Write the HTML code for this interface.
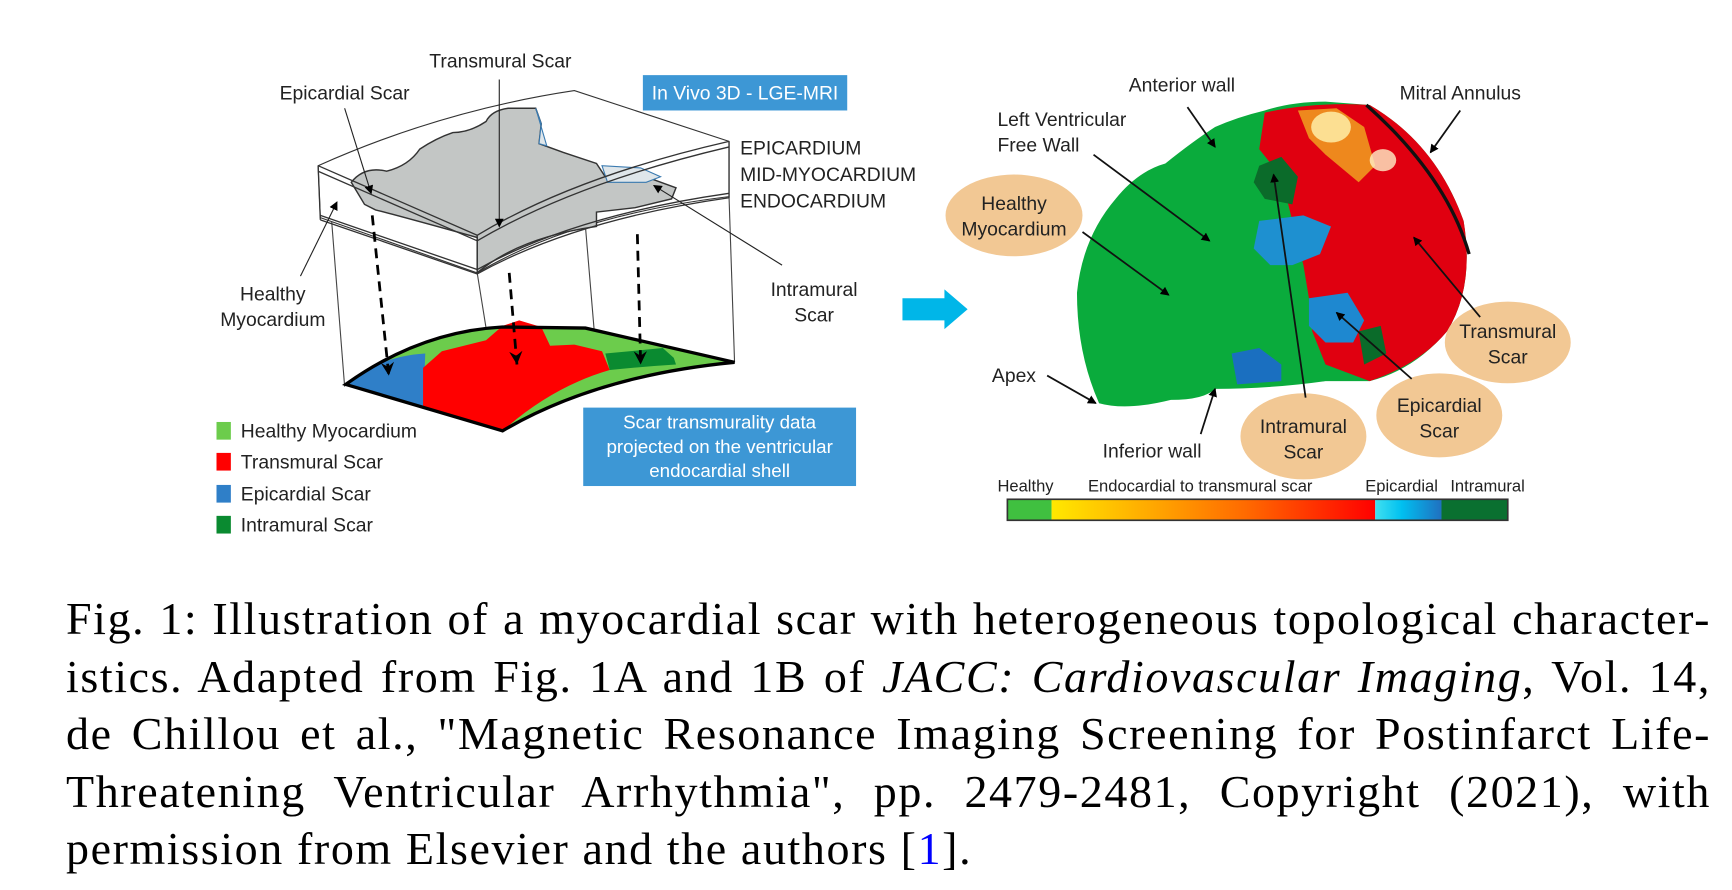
<!DOCTYPE html>
<html><head><meta charset="utf-8"><style>
html,body{margin:0;padding:0;background:#fff;}
body{width:1732px;height:890px;position:relative;overflow:hidden;}
svg{position:absolute;left:0;top:0;}
.cap{position:absolute;left:66px;width:1645px;font-family:"Liberation Serif",serif;font-size:46px;letter-spacing:1.6px;line-height:57.5px;white-space:nowrap;color:#000;}
.j{text-align:justify;text-align-last:justify;}
</style></head><body>
<svg width="1732" height="890" viewBox="0 0 1568 805.7" font-family="Liberation Sans, sans-serif">
<defs>
<marker id="ah" markerWidth="8" markerHeight="8" refX="7" refY="4" orient="auto" markerUnits="userSpaceOnUse"><path d="M0,0 L8,4 L0,8 Z" fill="#000"/></marker>
<marker id="ah2" markerWidth="14" markerHeight="12" refX="12" refY="6" orient="auto" markerUnits="userSpaceOnUse"><path d="M0,0 L12,6 L0,12 L4,6 Z" fill="#000"/></marker>
<linearGradient id="cb" x1="0" x2="1"><stop offset="0" stop-color="#ffe800"/><stop offset="0.3" stop-color="#ffaa00"/><stop offset="0.6" stop-color="#ff6a00"/><stop offset="1" stop-color="#ff0000"/></linearGradient>
<linearGradient id="cb2" x1="0" x2="1"><stop offset="0" stop-color="#40e0f0"/><stop offset="0.4" stop-color="#00c0f0"/><stop offset="1" stop-color="#2070c0"/></linearGradient>
</defs>
<g fill="none" stroke="#444" stroke-width="1">
<line x1="300" y1="197" x2="312" y2="350"/>
<line x1="432" y1="247" x2="455" y2="390"/>
<line x1="530" y1="205" x2="538" y2="300"/>
<line x1="660" y1="178" x2="665" y2="328"/>
</g>
<path d="M313,348 Q380,300 455,296 L530,297 L665,328 Q540,340 455,390 Z" fill="#6ccc4c"/>
<path d="M330,337 Q352,322 385,320 L383,370 L313,348 Z" fill="#2f7fc8"/>
<path d="M383,333 L400,318 L440,308 L455,295 L470,290 L490,296 L498,313 L520,312 L545,318 L552,335 Q500,350 455,390 L383,368 Z" fill="#ff0000"/>
<path d="M552,335 L548,320 L570,318 L600,315 L610,324 L612,330 Q580,332 552,335 Z" fill="#0a8a30"/>
<path d="M313,348 Q380,300 455,296 L530,297 L665,328 Q540,340 455,390 Z" fill="none" stroke="#000" stroke-width="3"/>
<path d="M288,150 Q400,100 520,82 L660,128 L660,178 Q520,195 432,247 L290,197 Z" fill="#fff" stroke="#333" stroke-width="1"/>
<path d="M318,165 Q330,150 350,155 Q370,150 380,135 Q395,125 410,120 Q425,120 440,110 Q445,100 460,98 L485,98 L490,112 L488,130 L510,138 L540,148 L548,160 L590,162 L612,170 L608,180 L575,188 L540,192 L540,205 Q470,215 432,247 L432,215 Q360,195 340,190 L330,185 Z" fill="#c3c6c5" stroke="#333" stroke-width="1.3"/>
<path d="M545,150 L550,165 L585,165 L598,160 L580,152 Z" fill="#dfe6ea" stroke="#3a7ab0" stroke-width="1"/>
<path d="M485,98 L490,112 L488,130 L495,132 Z" fill="#dfe6ea" stroke="#3a7ab0" stroke-width="1"/>
<g fill="none" stroke="#333" stroke-width="1.2">
<path d="M288,150 L432,213 Q520,160 660,128"/>
<path d="M288,155 L432,218 Q520,166 660,133"/>
<path d="M290,195 L432,244 Q520,195 660,175"/>
<path d="M290,199 L432,248 Q520,199 660,179"/>
<line x1="288" y1="150" x2="290" y2="199"/>
<line x1="432" y1="213" x2="432" y2="248"/>
<line x1="660" y1="128" x2="660" y2="179"/>
</g>
<g stroke="#000" stroke-width="2.5" stroke-dasharray="9,6" fill="none" marker-end="url(#ah2)">
<line x1="337" y1="195" x2="352" y2="340"/>
<line x1="461" y1="247" x2="468" y2="330"/>
<line x1="577" y1="212" x2="580" y2="330"/>
</g>
<g stroke="#222" stroke-width="1" fill="none" marker-end="url(#ah)">
<line x1="312" y1="98" x2="336" y2="175"/>
<line x1="452" y1="72" x2="452" y2="205"/>
<line x1="708" y1="240" x2="592" y2="168"/>
<line x1="272" y1="250" x2="305" y2="183"/>
</g>
<g font-size="17.5" fill="#222">
<text x="453" y="61" text-anchor="middle">Transmural Scar</text>
<text x="312" y="90" text-anchor="middle">Epicardial Scar</text>
<text x="670" y="140">EPICARDIUM</text>
<text x="670" y="164">MID-MYOCARDIUM</text>
<text x="670" y="188">ENDOCARDIUM</text>
<text x="737" y="268" text-anchor="middle">Intramural</text>
<text x="737" y="291" text-anchor="middle">Scar</text>
<text x="247" y="272" text-anchor="middle">Healthy</text>
<text x="247" y="295" text-anchor="middle">Myocardium</text>
</g>
<rect x="582" y="68" width="185" height="32" fill="#3d97d5"/>
<text x="674.5" y="90" text-anchor="middle" font-size="17.5" fill="#fff">In Vivo 3D - LGE-MRI</text>
<rect x="528" y="369" width="247" height="71" fill="#3d97d5"/>
<g font-size="17" fill="#fff" text-anchor="middle">
<text x="651.5" y="388">Scar transmurality data</text>
<text x="651.5" y="410">projected on the ventricular</text>
<text x="651.5" y="432">endocardial shell</text>
</g>
<rect x="196" y="382" width="13" height="16" fill="#6ccc4c"/>
<rect x="196" y="410" width="13" height="16" fill="#ff0000"/>
<rect x="196" y="439" width="13" height="16" fill="#2f7fc8"/>
<rect x="196" y="467" width="13" height="16" fill="#0a8a30"/>
<g font-size="17.5" fill="#222">
<text x="218" y="396">Healthy Myocardium</text>
<text x="218" y="424">Transmural Scar</text>
<text x="218" y="453">Epicardial Scar</text>
<text x="218" y="481">Intramural Scar</text>
</g>
<path d="M817,270 L855,270 L855,262 L876,280 L855,298 L855,290 L817,290 Z" fill="#00b6e8"/>
<path d="M995,365 Q975,320 975,265 Q980,215 1010,180 Q1030,155 1055,148 Q1080,128 1100,115 Q1120,106 1145,100 Q1170,92 1200,92 L1240,95 Q1300,130 1325,200 Q1335,260 1310,300 Q1280,335 1240,345 L1200,345 Q1150,352 1100,352 Q1090,362 1060,362 Q1020,372 995,365 Z" fill="#0aab3c"/>
<path d="M1145,102 Q1190,92 1240,95 Q1300,130 1325,200 Q1335,260 1310,300 Q1285,330 1240,345 L1200,330 L1188,300 L1185,270 L1180,240 L1175,220 L1165,180 L1152,150 L1140,135 Z" fill="#e00010"/>
<path d="M1175,100 L1210,98 L1235,115 L1245,150 L1230,165 L1200,140 L1185,125 Z" fill="#f0a020" opacity="0.85"/>
<ellipse cx="1205" cy="115" rx="18" ry="14" fill="#fff5b0" opacity="0.8"/>
<ellipse cx="1252" cy="145" rx="12" ry="10" fill="#fff0c8" opacity="0.8"/>
<path d="M1140,150 L1160,142 L1175,160 L1170,185 L1145,180 L1135,165 Z" fill="#0b6b2a"/>
<path d="M1140,200 L1180,195 L1205,205 L1195,230 L1170,240 L1150,240 L1135,225 Z" fill="#1e90d0"/>
<path d="M1185,270 L1220,265 L1235,290 L1225,310 L1200,310 L1185,295 Z" fill="#1e88d0"/>
<path d="M1115,320 L1140,315 L1160,330 L1160,345 L1120,348 Z" fill="#1a6fc0"/>
<path d="M1230,300 L1250,295 L1255,320 L1235,330 Z" fill="#0b6b2a"/>
<path d="M1237,95 Q1310,160 1330,230" fill="none" stroke="#111" stroke-width="3"/>
<g fill="#f2c894">
<ellipse cx="918" cy="195" rx="62" ry="37"/>
<ellipse cx="1365" cy="310" rx="57" ry="37"/>
<ellipse cx="1303" cy="376" rx="57" ry="38"/>
<ellipse cx="1180" cy="395" rx="57" ry="39"/>
</g>
<g stroke="#111" stroke-width="1.6" fill="none" marker-end="url(#ah)">
<line x1="1075" y1="97" x2="1100" y2="133"/>
<line x1="1322" y1="100" x2="1295" y2="138"/>
<line x1="990" y1="140" x2="1095" y2="218"/>
<line x1="980" y1="210" x2="1058" y2="267"/>
<line x1="1340" y1="287" x2="1280" y2="215"/>
<line x1="1278" y1="343" x2="1210" y2="283"/>
<line x1="1182" y1="360" x2="1153" y2="158"/>
<line x1="948" y1="340" x2="992" y2="365"/>
<line x1="1087" y1="393" x2="1100" y2="352"/>
</g>
<g font-size="17.5" fill="#222">
<text x="1070" y="83" text-anchor="middle">Anterior wall</text>
<text x="1322" y="90" text-anchor="middle">Mitral Annulus</text>
<text x="903" y="114">Left Ventricular</text>
<text x="903" y="137">Free Wall</text>
<text x="918" y="190" text-anchor="middle">Healthy</text>
<text x="918" y="213" text-anchor="middle">Myocardium</text>
<text x="1365" y="306" text-anchor="middle">Transmural</text>
<text x="1365" y="329" text-anchor="middle">Scar</text>
<text x="1303" y="373" text-anchor="middle">Epicardial</text>
<text x="1303" y="396" text-anchor="middle">Scar</text>
<text x="1180" y="392" text-anchor="middle">Intramural</text>
<text x="1180" y="415" text-anchor="middle">Scar</text>
<text x="898" y="346">Apex</text>
<text x="1043" y="414" text-anchor="middle">Inferior wall</text>
</g>
<g font-size="15" fill="#222">
<text x="903" y="445">Healthy</text>
<text x="985" y="445">Endocardial to transmural scar</text>
<text x="1236" y="445">Epicardial</text>
<text x="1313" y="445">Intramural</text>
</g>
<rect x="912" y="452" width="40" height="19" fill="#40c040"/>
<rect x="952" y="452" width="293" height="19" fill="url(#cb)"/>
<rect x="1245" y="452" width="60" height="19" fill="url(#cb2)"/>
<rect x="1305" y="452" width="60" height="19" fill="#0a7030"/>
<rect x="912" y="452" width="453" height="19" fill="none" stroke="#333" stroke-width="1.5"/>
</svg>
<div class="cap j" style="top:590px">Fig. 1: Illustration of a myocardial scar with heterogeneous topological character-</div>
<div class="cap j" style="top:647.5px">istics. Adapted from Fig. 1A and 1B of <i>JACC: Cardiovascular Imaging</i>, Vol. 14,</div>
<div class="cap j" style="top:705px">de Chillou et al., "Magnetic Resonance Imaging Screening for Postinfarct Life-</div>
<div class="cap j" style="top:762.5px">Threatening Ventricular Arrhythmia", pp. 2479-2481, Copyright (2021), with</div>
<div class="cap" style="top:820px">permission from Elsevier and the authors [<span style="color:#0000ff">1</span>].</div>
</body></html>
